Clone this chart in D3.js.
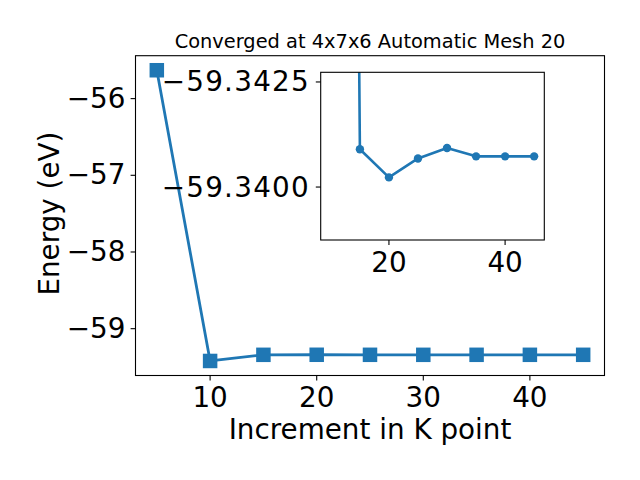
<!DOCTYPE html>
<html>
<head>
<meta charset="utf-8">
<script src="https://cdn.jsdelivr.net/npm/d3@7"></script>
<style>
  html, body { margin: 0; padding: 0; background: #fff; }
  svg { display: block; }
  text { font-family: "DejaVu Sans", sans-serif; fill: #000; }
</style>
</head>
<body>
<div id="chart"></div>
<script>
// ---- data ----
const kPoints = [5, 10, 15, 20, 25, 30, 35, 40, 45];
const energies = [-55.63, -59.421, -59.34090, -59.34023, -59.34068, -59.34093, -59.34073, -59.34073, -59.34073];
const mainXTicks = [10, 20, 30, 40];
const mainYTicks = [-59, -58, -57, -56];
const insetXTicks = [20, 40];
const insetYTicks = [-59.3425, -59.3400];
const insetYLimits = [-59.34273, -59.33874]; // top, bottom (inverted axis)
const titleText = "Converged at 4x7x6 Automatic Mesh 20";
const xLabel = "Increment in K point";
const yLabel = "Energy (eV)";

const W = 640, H = 480;
const color = "#1f77b4";
const fmtMinus = s => s.replace("-", "\u2212");

const svg = d3.select("#chart").append("svg").attr("width", W).attr("height", H);

// ---- main axes ----
const M = { left: 135.5, right: 604.5, top: 55.7, bottom: 375.5 };
function padded(ext) { const p = (ext[1] - ext[0]) * 0.05; return [ext[0] - p, ext[1] + p]; }
const x = d3.scaleLinear().domain(padded(d3.extent(kPoints))).range([M.left, M.right]);
const y = d3.scaleLinear().domain(padded(d3.extent(energies))).range([M.bottom, M.top]);

const main = svg.append("g");
const pts = kPoints.map((k, i) => ({ k, e: energies[i] }));

main.append("path").datum(pts)
  .attr("fill", "none").attr("stroke", color).attr("stroke-width", 2.8)
  .attr("stroke-linejoin", "round")
  .attr("d", d3.line().x(d => x(d.k)).y(d => y(d.e)));

const sq = 14.5;
main.selectAll("rect.m").data(pts).enter().append("rect")
  .attr("x", d => x(d.k) - sq / 2).attr("y", d => y(d.e) - sq / 2)
  .attr("width", sq).attr("height", sq).attr("fill", color);

// frame
main.append("rect").attr("x", M.left).attr("y", M.top)
  .attr("width", M.right - M.left).attr("height", M.bottom - M.top)
  .attr("fill", "none").attr("stroke", "#000").attr("stroke-width", 1.1);

// x ticks
const tl = 4.9;
mainXTicks.forEach(t => {
  main.append("line").attr("x1", x(t)).attr("x2", x(t)).attr("y1", M.bottom).attr("y2", M.bottom + tl)
    .attr("stroke", "#000").attr("stroke-width", 1.1);
  main.append("text").attr("x", x(t)).attr("y", M.bottom + 31.5).attr("text-anchor", "middle")
    .attr("font-size", 27.8).text(fmtMinus(String(t)));
});
mainYTicks.forEach(t => {
  main.append("line").attr("x1", M.left - tl).attr("x2", M.left).attr("y1", y(t)).attr("y2", y(t))
    .attr("stroke", "#000").attr("stroke-width", 1.1);
  main.append("text").attr("x", M.left - 10).attr("y", y(t) + 9).attr("text-anchor", "end")
    .attr("font-size", 27.8).text(fmtMinus(String(t)));
});

// labels
svg.append("text").attr("x", (M.left + M.right) / 2).attr("y", 439).attr("text-anchor", "middle")
  .attr("font-size", 27.8).text(xLabel);
svg.append("text").attr("transform", `translate(59,${(M.top + M.bottom) / 2 - 2}) rotate(-90)`)
  .attr("text-anchor", "middle").attr("font-size", 27.8).text(yLabel);
svg.append("text").attr("x", (M.left + M.right) / 2).attr("y", 48).attr("text-anchor", "middle")
  .attr("font-size", 19.4).text(titleText);

// ---- inset axes ----
const I = { left: 320.7, right: 544.3, top: 72.3, bottom: 240 };
const insetPts = pts.filter(d => d.k >= 10);
const xi = d3.scaleLinear().domain(padded(d3.extent(insetPts, d => d.k))).range([I.left, I.right]);
const yi = d3.scaleLinear().domain(insetYLimits).range([I.top, I.bottom]);

const inset = svg.append("g");
inset.append("rect").attr("x", I.left).attr("y", I.top)
  .attr("width", I.right - I.left).attr("height", I.bottom - I.top).attr("fill", "#fff");

svg.append("defs").append("clipPath").attr("id", "insetClip").append("rect")
  .attr("x", I.left).attr("y", I.top).attr("width", I.right - I.left).attr("height", I.bottom - I.top);

const ig = inset.append("g").attr("clip-path", "url(#insetClip)");
ig.append("path").datum(insetPts)
  .attr("fill", "none").attr("stroke", color).attr("stroke-width", 2.6)
  .attr("stroke-linejoin", "round")
  .attr("d", d3.line().x(d => xi(d.k)).y(d => yi(d.e)));
ig.selectAll("circle").data(insetPts).enter().append("circle")
  .attr("cx", d => xi(d.k)).attr("cy", d => yi(d.e)).attr("r", 4.2).attr("fill", color);

inset.append("rect").attr("x", I.left).attr("y", I.top)
  .attr("width", I.right - I.left).attr("height", I.bottom - I.top)
  .attr("fill", "none").attr("stroke", "#000").attr("stroke-width", 1.1);

insetXTicks.forEach(t => {
  inset.append("line").attr("x1", xi(t)).attr("x2", xi(t)).attr("y1", I.bottom).attr("y2", I.bottom + tl)
    .attr("stroke", "#000").attr("stroke-width", 1.1);
  inset.append("text").attr("x", xi(t)).attr("y", I.bottom + 32.3).attr("text-anchor", "middle")
    .attr("font-size", 27.8).text(String(t));
});
insetYTicks.forEach(t => {
  inset.append("line").attr("x1", I.left - tl).attr("x2", I.left).attr("y1", yi(t)).attr("y2", yi(t))
    .attr("stroke", "#000").attr("stroke-width", 1.1);
  inset.append("text").attr("x", I.left - 12).attr("y", yi(t) + 9.5).attr("text-anchor", "end")
    .attr("font-size", 27.8).attr("textLength", 147).attr("lengthAdjust", "spacing")
    .text(fmtMinus(d3.format(".4f")(t)));
});
</script>
</body>
</html>
